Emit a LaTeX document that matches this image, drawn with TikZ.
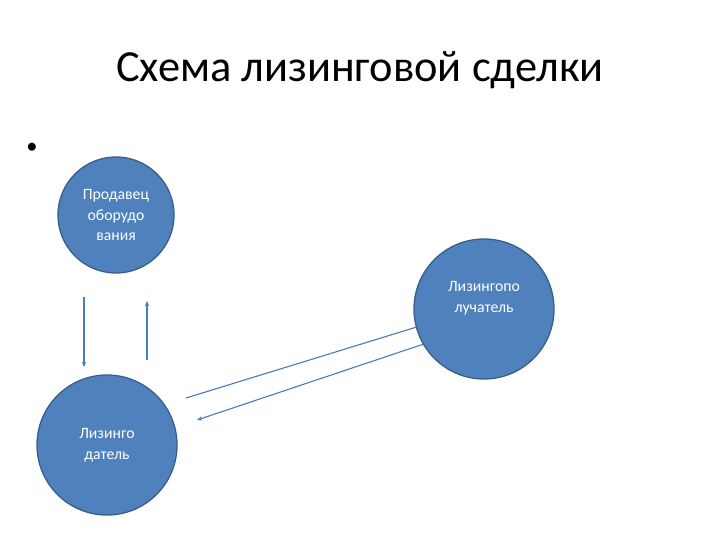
\documentclass[tikz,border=0pt]{standalone}
\usepackage{fontspec}
\setmainfont{Carlito}
\usepackage{xcolor}
\usetikzlibrary{arrows.meta}
\definecolor{circfill}{HTML}{4F81BD}
\definecolor{circline}{HTML}{385D8A}
\definecolor{arrline}{HTML}{4A7EBB}

\begin{document}
\begin{tikzpicture}[x=0.025cm, y=-0.025cm, >={Stealth[length=1.3mm, width=1.1mm]},
    party/.style={circle, draw=circline, fill=circfill, line width=0.9pt, text=white,
      align=center, inner sep=0pt, font=\fontsize{11.2}{14.9}\selectfont},
    flow/.style={draw=arrline, line width=0.8pt}]
  \useasboundingbox (0,0) rectangle (720,540);
  \node[font=\fontsize{31.6}{37}\selectfont] (title) at (360,70) {Схема лизинговой сделки};
  \node[font=\fontsize{16}{20}\selectfont] (dot) at (32,148) {•};
  \node[party, minimum size=2.9cm] (seller) at (116,215) {Продавец\\оборудо\\вания};
  \node[party, minimum size=3.5cm] (lessee) at (484,309) {};
  \node[text=white, align=center, font=\fontsize{11.2}{14.9}\selectfont] (lesseetxt) at (484,298) {Лизингопо\\лучатель};
  \node[party, minimum size=3.5cm] (lessor) at (107,445) {Лизинго\\датель};
  % free ends of the connectors
  \coordinate (s1) at (84,297);
  \coordinate (l1) at (84,367);
  \coordinate (l2) at (147,360);
  \coordinate (s2) at (147,301);
  \coordinate (l3) at (186,398);
  \coordinate (l4) at (197,420);
  \draw[flow, ->] (s1) -- (l1);
  \draw[flow, ->] (l2) -- (s2);
  \draw[flow] (l3) -- (lessee.195);
  \draw[flow, ->] (lessee.210) -- (l4);
\end{tikzpicture}
\end{document}
